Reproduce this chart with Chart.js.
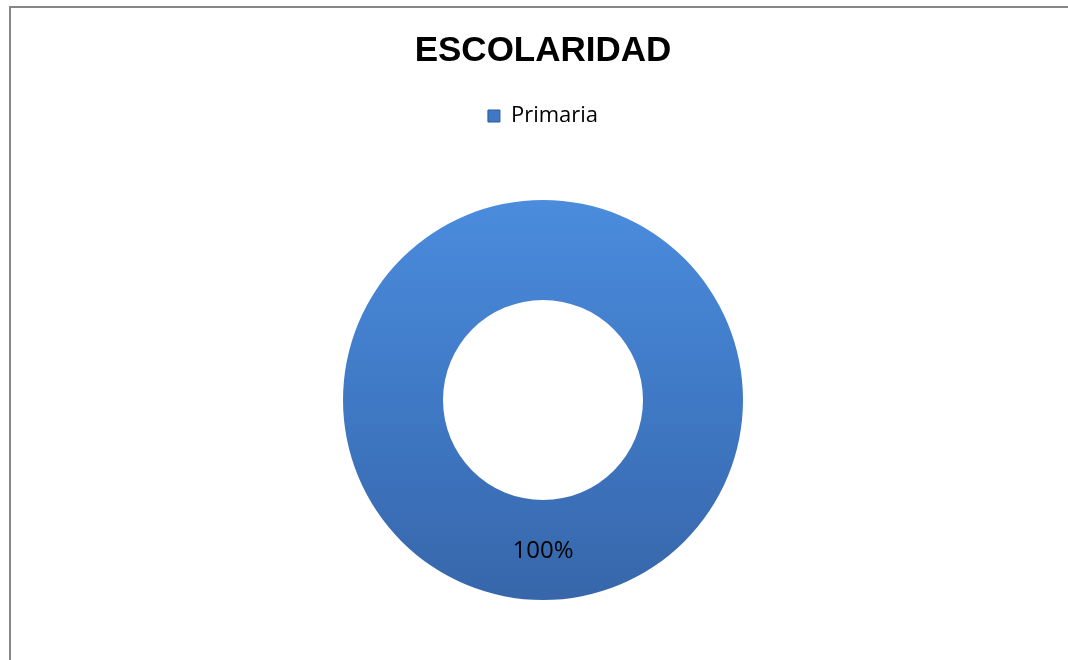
<!DOCTYPE html>
<html>
<head>
<meta charset="utf-8">
<title>ESCOLARIDAD</title>
<script src="https://cdn.jsdelivr.net/npm/chart.js@4/dist/chart.umd.min.js"></script>
<style>
    html, body { margin: 0; padding: 0; background: #fff; overflow: hidden; }
    #frame {
        position: absolute; left: 9px; top: 6px; width: 1100px; height: 700px;
        border-left: 2px solid #878787; border-top: 2px solid #878787;
    }
    #box { position: absolute; left: 11px; top: 8px; width: 1064px; height: 652px; }
</style>
</head>
<body>
<div id="frame"></div>
<div id="box"><canvas id="escolaridadChart"></canvas></div>
<script>
const categories = ["Primaria"];
const counts = [100];
const chartTitle = "ESCOLARIDAD";

// gradient like the office bevel fill, top light -> bottom dark
function ringFill(ctx) {
    const area = ctx.chart.chartArea;
    if (!area) return "#3f78c4";
    const g = ctx.chart.ctx.createLinearGradient(0, area.top, 0, area.bottom);
    g.addColorStop(0, "#4b8cdd");
    g.addColorStop(0.5, "#3f79c5");
    g.addColorStop(1, "#3766aa");
    return g;
}

// extra room under the legend
const legendGap = {
    id: "legendGap",
    beforeLayout(chart) {
        const legend = chart.legend;
        if (!legend || legend._gapPatched) return;
        const origFit = legend.fit;
        legend.fit = function () {
            origFit.call(this);
            this.height += 63;
        };
        legend._gapPatched = true;
    }
};

// percent label in the middle of each slice
const pctLabels = {
    id: "pctLabels",
    afterDatasetsDraw(chart) {
        const ctx = chart.ctx;
        const data = chart.data.datasets[0].data;
        const total = data.reduce((a, b) => a + b, 0);
        const meta = chart.getDatasetMeta(0);
        ctx.save();
        ctx.font = "24px 'Open Sans'";
        ctx.fillStyle = "#000";
        ctx.textAlign = "center";
        ctx.textBaseline = "middle";
        meta.data.forEach((arc, i) => {
            const p = arc.tooltipPosition();
            ctx.fillText(Math.round(data[i] / total * 100) + "%", p.x, p.y + 1);
        });
        ctx.restore();
    }
};

new Chart(document.getElementById("escolaridadChart"), {
    type: "doughnut",
    data: {
        labels: categories,
        datasets: [{
            data: counts,
            backgroundColor: ringFill,
            borderWidth: 0
        }]
    },
    options: {
        responsive: true,
        maintainAspectRatio: false,
        animation: false,
        cutout: "50%",
        layout: { padding: { top: 0, bottom: 60, left: 0, right: 0 } },
        plugins: {
            title: {
                display: true,
                text: chartTitle,
                color: "#000",
                font: { family: "'Liberation Sans', Arial", size: 35, weight: "bold" },
                padding: { top: 22, bottom: 23 }
            },
            legend: {
                position: "top",
                labels: {
                    boxWidth: 12,
                    boxHeight: 12,
                    padding: 10,
                    color: "#000",
                    font: { family: "'Open Sans'", size: 22 },
                    generateLabels() {
                        return categories.map((c, i) => ({
                            text: c,
                            fillStyle: "#3f79c5",
                            strokeStyle: "#2d5a96",
                            lineWidth: 1,
                            index: i
                        }));
                    }
                }
            },
            tooltip: { enabled: false }
        }
    },
    plugins: [legendGap, pctLabels]
});
</script>
</body>
</html>
